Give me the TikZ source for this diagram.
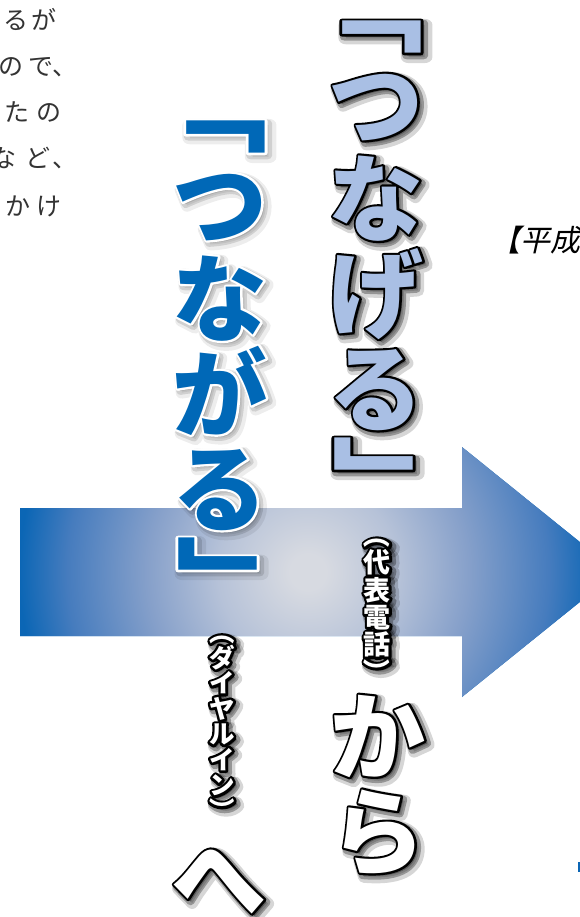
\documentclass[tikz,border=0pt]{standalone}
\usepackage{fontspec}
\newfontfamily\jp{Noto Sans CJK JP}
\newfontfamily\jpslant{Noto Sans CJK JP}[FakeSlant=0.22]
% bold face, and the same face stroked wider for edges and shadows
\newcommand\jpface[1]{\font\jpfacefont="Noto Sans CJK JP/B" at #1pt\jpfacefont}
\newcommand\jpedge[2]{\font\jpedgefont="Noto Sans CJK JP/B:embolden=#1" at #2pt\jpedgefont}

\definecolor{arrowblue}{HTML}{0B66B5}
\definecolor{glowgray}{HTML}{D7DAE1}
\definecolor{glowmidA}{HTML}{B6C2D8}
\definecolor{glowmidB}{HTML}{86A0CA}
\definecolor{glowmidC}{HTML}{467CBE}
\definecolor{softblue}{HTML}{A9BFE4}
\definecolor{deepblue}{HTML}{0068B7}
\definecolor{inkgray}{HTML}{333333}

\pgfdeclareradialshading{arrowglow}{\pgfpoint{0bp}{0bp}}{%
  color(0bp)=(glowgray); color(18bp)=(glowgray); color(90bp)=(glowmidA);
  color(160bp)=(glowmidB); color(240bp)=(glowmidC); color(288bp)=(arrowblue);
  color(300bp)=(arrowblue)}

% one vertical column: name, style, first cell, pitch, glyph/turn list
\newcommand\vcolumn[5]{%
  \foreach \ch/\how [count=\k] in {#5}
    {\node[#2,yshift={-(#4)*(\k-1)},\how] (#1-\k) at (#3) {\ch};}}

% haze, shadow, edge and face: name, size, face, edge, shadow, first cell, pitch, list
\newcommand\fancycolumn[8]{%
  \vcolumn{#1h}{#2 haze,#5 haze,text=black,shift={(4,4)}}{#6}{#7}{#8}
  \vcolumn{#1s}{#2 shade,#5 shade,text=black,shift={(2.5,2.5)}}{#6}{#7}{#8}
  \vcolumn{#1o}{#2 edge,text=#4}{#6}{#7}{#8}
  \vcolumn{#1}{#2 face,text=#3}{#6}{#7}{#8}}

\begin{document}
\begin{tikzpicture}
[x=1pt,y=-1pt,line join=round,
  big/.style={inner sep=0pt,text height=83.6pt,text depth=11.4pt},
  big face/.style={big,font=\jpface{95}},
  big edge/.style={big,font=\jpedge{4.6}{95}},
  big shade/.style={big,font=\jpedge{8}{95}},
  big haze/.style={big,font=\jpedge{12.5}{95}},
  label/.style={inner sep=0pt,text height=23.8pt,text depth=3.2pt},
  label face/.style={label,font=\jpface{27}},
  label edge/.style={label,font=\jpedge{19}{27}},
  label shade/.style={label,font=\jpedge{30}{27}},
  label haze/.style={label,font=\jpedge{44}{27}},
  dial/.style={inner sep=0pt,text height=22.4pt,text depth=3.1pt},
  dial face/.style={dial,font=\jpface{25.5}},
  dial edge/.style={dial,font=\jpedge{20}{25.5}},
  dial shade/.style={dial,font=\jpedge{31}{25.5}},
  dial haze/.style={dial,font=\jpedge{46}{25.5}},
  dark haze/.style={opacity=.16,text opacity=.16},
  dark shade/.style={opacity=.3,text opacity=.3},
  light haze/.style={opacity=.07,text opacity=.07},
  light shade/.style={opacity=.12,text opacity=.12},
  asis/.style={},
  open bracket/.style={xshift=-14,xscale=1.3,rotate=-90},
  close bracket/.style={xshift=17,xscale=1.3,rotate=-90},
  turned/.style={rotate=-90},
  bodyglyph/.style={inner sep=0pt,font=\jp\fontsize{25}{25}\selectfont,
    text=inkgray,text height=22pt,text depth=3pt}]
\useasboundingbox (0,0) rectangle (580,917);
\clip (0,0) rectangle (580,917);

%% paragraph cut at the left edge
\foreach \ch/\x/\y in {
  る/16/20, が/44/20, の/11/66, で/41/66, 、/65/66, た/17/112, の/49/112,
  な/4/158, ど/38/158, 、/65/158, か/18/206, け/49/206}
{
  \node[bodyglyph] (p-\x-\y) at (\x,\y) {\ch};
}

%% arrow with glow
\begin{scope}
  \clip (20,508) -- (462,508) -- (462,447) -- (617,572) -- (462,697)
    -- (462,636) -- (20,636) -- cycle;
  \fill[arrowblue] (0,400) rectangle (620,720);
  \node[inner sep=0pt] (glow) at (308,572) {\pgfuseshading{arrowglow}};
\end{scope}
\fill[arrowblue] (577.5,862) rectangle (580,872);

%% big vertical words
\fancycolumn{tg}{big}{softblue}{black}{dark}{376,8}{95}
  {「/open bracket, つ/asis, な/asis, げ/asis, る/asis, 」/close bracket}
\fancycolumn{tga}{big}{deepblue}{white}{light}{220,108}{95}
  {「/open bracket, つ/asis, な/asis, が/asis, る/asis, 」/close bracket}
\fancycolumn{kara}{big}{white}{black}{dark}{378,736}{95}{か/asis, ら/asis}
\fancycolumn{he}{big}{white}{black}{dark}{219,878}{95}{へ/asis}

%% small labels
\fancycolumn{daihyo}{label}{white}{black}{dark}{377,535}{27.4}
  {（/turned, 代/asis, 表/asis, 電/asis, 話/asis, ）/turned}
\fancycolumn{dialin}{dial}{white}{black}{dark}{222,632}{25.5}
  {（/turned, ダ/asis, イ/asis, ヤ/asis, ル/asis, イ/asis, ン/asis, ）/turned}

\node[anchor=west,inner sep=0pt,font=\jpslant\fontsize{30}{30}\selectfont,
  text height=26.4pt,text depth=3.6pt] (heisei) at (490,240) {【平成};
\end{tikzpicture}
\end{document}
